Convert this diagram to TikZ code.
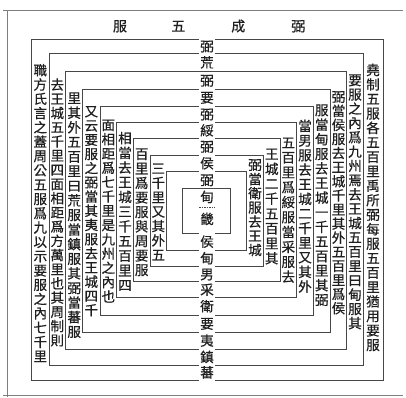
\documentclass[tikz,border=0pt]{standalone}
\usepackage{fontspec}
\newfontfamily\cjk[FakeBold=0.6]{Noto Sans CJK TC}
\definecolor{ink}{gray}{0.12}
\definecolor{rule}{gray}{0.28}
\makeatletter
\newcommand\vcol[2]{\vbox{\baselineskip=#1pt\lineskiplimit=-100pt\lineskip=0pt\@tfor\ch:=#2\do{\hbox to 14pt{\hss\vrule height 11.8pt depth 1.7pt width 0pt\ch\hss}}}}
\makeatother
\tikzset{
  boxline/.style={draw=rule, line width=0.7pt},
  frameline/.style={draw=rule!70, line width=0.6pt},
  colnode/.style={inner sep=0pt, text=ink, font=\cjk\fontsize{13.5}{14}\selectfont},
  midchar/.style={inner xsep=1pt, inner ysep=1.6pt, fill=white, text=ink, text height=11.8pt, text depth=1.7pt, font=\cjk\fontsize{13.5}{14}\selectfont},
  titlechar/.style={inner sep=0pt, text=ink, text height=12.3pt, text depth=1.7pt, font=\cjk\fontsize{14}{15}\selectfont}
}
\begin{document}
\begin{tikzpicture}[x=1pt, y={(0pt,-1pt)}]
\useasboundingbox (0,0) rectangle (406,397);
% outer frame
\draw[frameline] (3,10) -- (403,10);
\draw[frameline] (7,10) -- (7,397);
\draw[frameline] (3,395) -- (403,395);
% title
\node[titlechar] (ti1) at (120,26) {服};
\node[titlechar] (ti2) at (178.3,26) {五};
\node[titlechar] (ti3) at (238.3,26) {成};
\node[titlechar] (ti4) at (298.3,26) {弼};
% nested boxes
\foreach \l/\t/\r/\b in {31.7/39.3/383/380, 49/53.3/363/365, 65.7/71.7/346.7/349, 82.7/89.3/330/332.3, 100/106/313.3/315, 116.7/122.7/296.7/297.7, 133.3/138.3/280/281.7, 150/155/263.3/266.7, 166.7/171.7/246.7/250, 182.7/188.3/230/233.3}
  \draw[boxline] (\l,\t) rectangle (\r,\b);
\draw[rule, line width=0.5pt, dash pattern=on 1.5pt off 1pt] (199,207.5) -- (215,207.5);
% right columns
\node[colnode] (r1) at (373,207.5) {\vcol{14.47}{堯制五服各五百里禹所弼每服五百里猶用要服}};
\node[colnode] (r2) at (355,201.7) {\vcol{14.3}{要服之內爲九州焉去王城五百里曰甸服其}};
\node[colnode] (r3) at (338.5,202.5) {\vcol{14.1}{弼當侯服去王城千里其外五百里爲侯}};
\node[colnode] (r4) at (321.7,205) {\vcol{14.6}{服當甸服去王城一千五百里其弼}};
\node[colnode] (r5) at (305,206.3) {\vcol{14.6}{當男服去王城二千里又其外}};
\node[colnode] (r6) at (288.3,209.7) {\vcol{14.9}{五百里爲綏服當采服去}};
\node[colnode] (r7) at (271.7,206.2) {\vcol{14.9}{王城二千五百里其}};
\node[colnode] (r8) at (255,207.5) {\vcol{14.2}{弼當衛服去王城}};
% left columns
\node[colnode] (l1) at (40.3,213.3) {\vcol{14.3}{職方氏言之蓋周公五服爲九以示要服之內七千里}};
\node[colnode] (l2) at (57.3,212.5) {\vcol{14.2}{去王城五千里四面相距爲方萬里也其周制則}};
\node[colnode] (l3) at (74.2,215) {\vcol{14.6}{里其外五百里曰荒服當鎮服其弼當蕃服}};
\node[colnode] (l4) at (91.3,210.8) {\vcol{14.2}{又云要服之弼當其夷服去王城四千}};
\node[colnode] (l5) at (108.3,210.8) {\vcol{14.3}{面相距爲七千里是九州之內也}};
\node[colnode] (l6) at (125,211.7) {\vcol{14.7}{相當去王城三千五百里四}};
\node[colnode] (l7) at (141.7,212) {\vcol{14.5}{百里爲要服與周要服}};
\node[colnode] (l8) at (158.3,211.7) {\vcol{14.4}{三千里又其外五}};
% central column, upper half
\node[midchar] (t1) at (207,46.3) {弼};
\node[midchar] (t2) at (207,62.5) {荒};
\node[midchar] (t3) at (207,80.5) {弼};
\node[midchar] (t4) at (207,97.7) {要};
\node[midchar] (t5) at (207,114.3) {弼};
\node[midchar] (t6) at (207,130.5) {綏};
\node[midchar] (t7) at (207,146.7) {弼};
\node[midchar] (t8) at (207,163.3) {侯};
\node[midchar] (t9) at (207,180) {弼};
\node[colnode, text height=11.8pt, text depth=1.7pt] (t10) at (207,197) {甸};
\node[colnode, text height=11.8pt, text depth=1.7pt] (t11) at (207,219) {畿};
% central column, lower half
\node[midchar] (b1) at (207,241.7) {侯};
\node[midchar] (b2) at (207,258.3) {甸};
\node[midchar] (b3) at (207,274.2) {男};
\node[midchar] (b4) at (207,289.7) {采};
\node[midchar] (b5) at (207,306.3) {衛};
\node[midchar] (b6) at (207,323.7) {要};
\node[midchar] (b7) at (207,340.7) {夷};
\node[midchar] (b8) at (207,357) {鎮};
\node[midchar] (b9) at (207,372.5) {蕃};
\end{tikzpicture}
\end{document}
